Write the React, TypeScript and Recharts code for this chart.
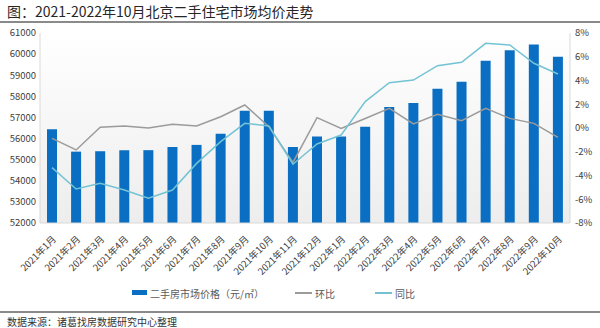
import { ComposedChart, Bar, Line, XAxis, YAxis, CartesianGrid } from 'recharts'

const months = [
  '2021年1月', '2021年2月', '2021年3月', '2021年4月', '2021年5月', '2021年6月',
  '2021年7月', '2021年8月', '2021年9月', '2021年10月', '2021年11月', '2021年12月',
  '2022年1月', '2022年2月', '2022年3月', '2022年4月', '2022年5月', '2022年6月',
  '2022年7月', '2022年8月', '2022年9月', '2022年10月',
]

// 二手房市场价格（元/㎡）
const prices = [
  56440, 55380, 55400, 55450, 55450, 55600, 55700, 56230, 57320, 57320, 55600,
  56100, 56100, 56560, 57500, 57680, 58360, 58690, 59690, 60180, 60450, 59880,
]

// 环比 (%)
const mom = [
  -0.87, -1.85, 0.06, 0.17, 0.0, 0.31, 0.17, 0.95, 1.94, 0.11, -2.9,
  0.87, -0.03, 0.8, 1.66, 0.34, 1.15, 0.62, 1.66, 0.81, 0.39, -0.79,
]

// 同比 (%)
const yoy = [
  -3.34, -5.14, -4.66, -5.22, -5.92, -5.22, -2.98, -1.15, 0.39, 0.17, -3.05,
  -1.35, -0.59, 2.22, 3.82, 4.04, 5.25, 5.53, 7.13, 6.99, 5.45, 4.55,
]

const priceTicks = [52000, 53000, 54000, 55000, 56000, 57000, 58000, 59000, 60000, 61000]
const pctTicks = [-8, -6, -4, -2, 0, 2, 4, 6, 8]

const data = months.map((m, i) => ({ month: m, price: prices[i], mom: mom[i], yoy: yoy[i] }))

const FONT = "'Noto Sans CJK SC', 'Noto Sans', sans-serif"
const BAR = '#0a6fc2'
const GRAY = '#9b9b9b'
const TEAL = '#74c3d4'

export default function App() {
  return (
    <div style={{ position: 'absolute', left: 0, top: 0, width: 600, height: 328, background: '#fff', fontFamily: FONT, overflow: 'hidden' }}>
      <div style={{ position: 'absolute', left: 7, top: 1, fontSize: 14, color: '#262626', whiteSpace: 'nowrap' }}>
        图：2021-2022年10月北京二手住宅市场均价走势
      </div>
      <div style={{ position: 'absolute', left: 0, top: 21, width: 600, height: 1.5, background: '#8a8a8a' }} />

      <div style={{ position: 'absolute', left: 0, top: 0 }}>
        <ComposedChart width={600} height={328} data={data} margin={{ top: 33, right: 0, bottom: 45, left: 4 }}>
          <defs>
            <linearGradient id="plotBg" x1="0" y1="0" x2="0" y2="1">
              <stop offset="0%" stopColor="#ffffff" />
              <stop offset="100%" stopColor="#ededed" />
            </linearGradient>
          </defs>
          <CartesianGrid horizontal={false} vertical={false} fill="url(#plotBg)" />
          <XAxis
            dataKey="month"
            interval={0}
            angle={-45}
            textAnchor="end"
            height={60}
            tickLine={false}
            tickMargin={6}
            axisLine={{ stroke: '#d9d9d9' }}
            tick={{ fontSize: 9.5, fill: '#404040', fontFamily: FONT }}
          />
          <YAxis
            yAxisId="left"
            width={36}
            domain={[52000, 61000]}
            ticks={priceTicks}
            interval={0}
            tickLine={false}
            tickSize={0}
            tickMargin={4}
            axisLine={{ stroke: '#d9d9d9' }}
            tick={{ fontSize: 9.5, fill: '#404040', fontFamily: FONT }}
          />
          <YAxis
            yAxisId="right"
            orientation="right"
            width={30}
            domain={[-8, 8]}
            ticks={pctTicks}
            interval={0}
            tickLine={false}
            tickSize={0}
            tickMargin={5}
            tickFormatter={(v: number) => `${v}%`}
            axisLine={{ stroke: '#d9d9d9' }}
            tick={{ fontSize: 9.5, fill: '#404040', fontFamily: FONT }}
          />
          <Bar yAxisId="left" dataKey="price" fill={BAR} barSize={10} isAnimationActive={false} />
          <Line yAxisId="right" dataKey="mom" type="linear" stroke={GRAY} strokeWidth={1.5} dot={false} isAnimationActive={false} />
          <Line yAxisId="right" dataKey="yoy" type="linear" stroke={TEAL} strokeWidth={1.5} dot={false} isAnimationActive={false} />
        </ComposedChart>
      </div>

      <div style={{ position: 'absolute', left: 0, top: 286, width: 600, fontSize: 10, color: '#595959' }}>
        <span style={{ position: 'absolute', left: 132, top: 4, width: 15, height: 5, background: BAR }} />
        <span style={{ position: 'absolute', left: 150, top: 0 }}>二手房市场价格（元/㎡）</span>
        <span style={{ position: 'absolute', left: 295, top: 6, width: 17, height: 1.5, background: GRAY }} />
        <span style={{ position: 'absolute', left: 315, top: 0 }}>环比</span>
        <span style={{ position: 'absolute', left: 375, top: 6, width: 17, height: 1.5, background: TEAL }} />
        <span style={{ position: 'absolute', left: 395, top: 0 }}>同比</span>
      </div>

      <div style={{ position: 'absolute', left: 0, top: 311, width: 600, height: 1.5, background: '#8a8a8a' }} />
      <div style={{ position: 'absolute', left: 7, top: 314, fontSize: 10, color: '#333', whiteSpace: 'nowrap' }}>
        数据来源：诸葛找房数据研究中心整理
      </div>
    </div>
  )
}
